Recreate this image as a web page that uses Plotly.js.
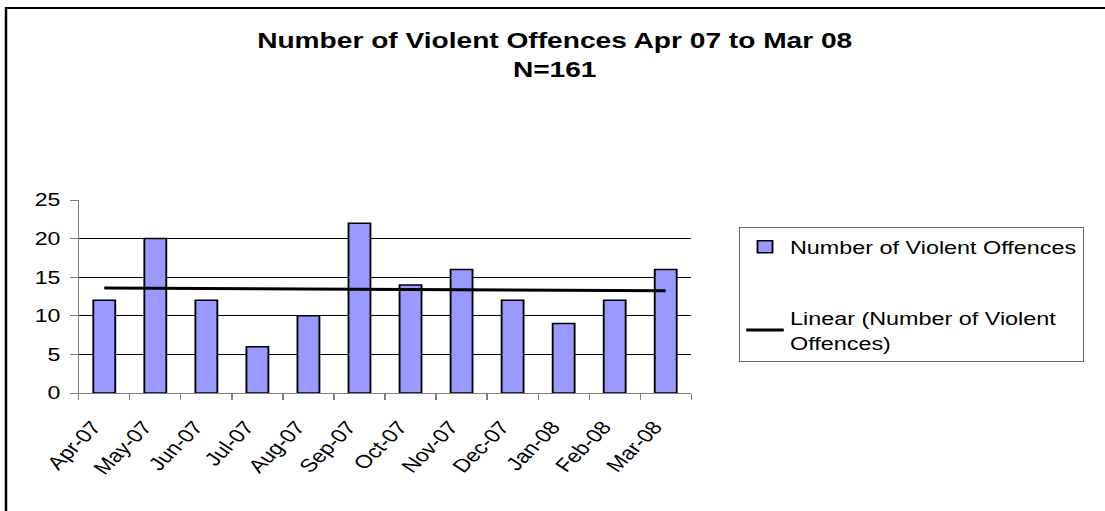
<!DOCTYPE html>
<html>
<head>
<meta charset="utf-8">
<script src="https://cdn.plot.ly/plotly-3.0.1.min.js"></script>
<style>
  html, body { margin: 0; padding: 0; background: #fff; overflow: hidden; }
  #chart { width: 884px; height: 511px; transform: scaleX(1.25); transform-origin: 0 0; }
</style>
</head>
<body>
<div id="chart"></div>
<script>
// ---- data ----
const months = ['Apr-07','May-07','Jun-07','Jul-07','Aug-07','Sep-07','Oct-07','Nov-07','Dec-07','Jan-08','Feb-08','Mar-08'];
const offences = [12, 20, 12, 6, 10, 22, 14, 16, 12, 9, 12, 16];
const seriesName = 'Number of Violent Offences';
const trendName = 'Linear (Number of Violent<br>Offences)';
const chartTitle = 'Number of Violent Offences Apr 07 to Mar 08<br>N=161';
const yTicks = [0, 5, 10, 15, 20, 25];
const yGrid = [5, 10, 15, 20];

// least-squares linear trend over the data (as the spreadsheet trendline does)
const n = offences.length;
const xs = offences.map((_, i) => i + 1);
const mx = xs.reduce((a, b) => a + b, 0) / n;
const my = offences.reduce((a, b) => a + b, 0) / n;
let sxy = 0, sxx = 0;
for (let i = 0; i < n; i++) { sxy += (xs[i] - mx) * (offences[i] - my); sxx += (xs[i] - mx) ** 2; }
const slope = sxy / sxx;
const trend = xs.map(x => my + slope * (x - mx));

const FONT = 'Liberation Sans, Arial, sans-serif';

const traces = [
  {
    type: 'bar', x: months, y: offences, name: seriesName,
    legendgroup: 'a',
    marker: { color: '#9999FF', line: { color: '#000000', width: 1.5 } },
    hoverinfo: 'x+y'
  },
  {
    type: 'scatter', mode: 'lines', x: months, y: trend, name: trendName,
    legendgroup: 'b', yaxis: 'y2',
    line: { color: '#000000', width: 3 },
    hoverinfo: 'skip'
  }
];

const W = 884;
const L = 63, R = 331, T = 200, B = 118;
const pw = W - L - R, ph = 511 - T - B;
const px = v => (v - L) / pw;
const py = v => (511 - B - v) / ph;

const layout = {
  width: W, height: 511,
  paper_bgcolor: '#ffffff', plot_bgcolor: '#ffffff',
  margin: { l: L, r: R, t: T, b: B, pad: 0 },
  font: { family: FONT, size: 18.5, color: '#000000' },
  title: {
    text: chartTitle,
    font: { family: FONT, size: 22.5, color: '#000000', weight: 'bold' },
    x: 0.502, xref: 'container', xanchor: 'center',
    y: 1 - 48 / 511, yref: 'container', yanchor: 'top'
  },
  bargap: 0.57,
  showlegend: true,
  legend: {
    x: px(591), xanchor: 'left', y: py(227), yanchor: 'top',
    bgcolor: '#ffffff', bordercolor: '#666666', borderwidth: 1,
    font: { family: FONT, size: 18.7, color: '#000000' },
    traceorder: 'grouped', tracegroupgap: 44
  },
  xaxis: {
    type: 'category', tickson: 'boundaries',
    showline: true, linecolor: '#808080', linewidth: 1,
    ticks: 'outside', ticklen: 6, tickcolor: '#808080',
    tickangle: -51, showgrid: false, zeroline: false,
    tickfont: { family: FONT, size: 18.5, color: '#000000' },
    ticklabelstandoff: 15, ticklabelshift: -9,
    fixedrange: true
  },
  yaxis: {
    range: [0, 25], tickvals: yTicks,
    showline: true, linecolor: '#808080', linewidth: 1,
    ticks: 'outside', ticklen: 6, tickcolor: '#808080',
    showgrid: false, zeroline: false,
    tickfont: { family: FONT, size: 18.5, color: '#000000' },
    ticklabelstandoff: 4,
    fixedrange: true
  },
  yaxis2: {
    overlaying: 'y', range: [0, 25], tickvals: yGrid,
    showgrid: true, gridcolor: '#000000', gridwidth: 1,
    showticklabels: false, ticks: '', showline: false, zeroline: false,
    fixedrange: true
  },
  shapes: [
    {
      type: 'path', xref: 'paper', yref: 'paper',
      path: `M ${px(4.8)} ${py(530)} L ${px(4.8)} ${py(8)} L ${px(W + 20)} ${py(8)}`,
      line: { color: '#000000', width: 2 }
    }
  ]
};

Plotly.newPlot('chart', traces, layout, { displayModeBar: false, staticPlot: true });
</script>
</body>
</html>
